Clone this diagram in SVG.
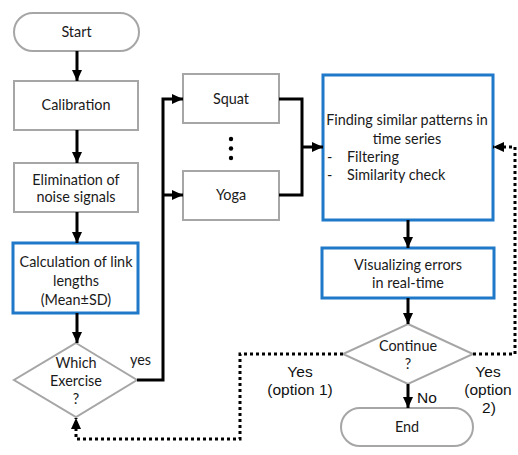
<svg xmlns="http://www.w3.org/2000/svg" width="518" height="455" viewBox="0 0 518 455">
<style>
.box{fill:#fff;stroke:#a6a6a6;stroke-width:2}
.blue{fill:#fff;stroke:#1f78c8;stroke-width:3}
.t{font-family:Lato,"Open Sans","Liberation Sans",sans-serif;font-size:14.4px;fill:#1a1a1a;text-anchor:middle}
.tl{font-family:Lato,"Open Sans","Liberation Sans",sans-serif;font-size:14.4px;fill:#1a1a1a}
.a{font-family:"Liberation Sans",Arial,sans-serif;font-size:15.5px;fill:#111;text-anchor:middle}
.c{fill:none;stroke:#000;stroke-width:3}
.d{fill:none;stroke:#000;stroke-width:3;stroke-dasharray:3 3}
</style>
<defs>
<marker id="ah" markerUnits="userSpaceOnUse" markerWidth="12" markerHeight="12" refX="11" refY="6" orient="auto">
<path d="M0,1 L11,6 L0,11 Z" fill="#000"/>
</marker>
</defs>
<rect width="518" height="455" fill="#fff"/>
<g id="start"><rect class="box" x="14" y="13" width="125" height="38" rx="19"/><text class="t" x="76.5" y="37">Start</text></g>
<g id="calibration"><rect class="box" x="14" y="81" width="124" height="49"/><text class="t" x="76" y="110">Calibration</text></g>
<g id="elimination"><rect class="box" x="14" y="163" width="124" height="49"/><text class="t" x="76" y="185">Elimination of</text><text class="t" x="76" y="202">noise signals</text></g>
<g id="calculation"><rect class="blue" x="13" y="243" width="125" height="70"/><text class="t" x="76" y="267">Calculation of link</text><text class="t" x="76" y="286">lengths</text><text class="t" x="76" y="305">(Mean±SD)</text></g>
<g id="which"><polygon class="box" points="76,343 137,380 76,417 14,380"/><text class="t" x="76" y="368">Which</text><text class="t" x="76" y="386">Exercise</text><text class="t" x="76" y="404">?</text></g>
<g id="squat"><rect class="box" x="183" y="74" width="96" height="49"/><text class="t" x="231" y="104">Squat</text></g>
<g id="dots"><circle cx="231" cy="139" r="2.2"/><circle cx="231" cy="148.5" r="2.2"/><circle cx="231" cy="158" r="2.2"/></g>
<g id="yoga"><rect class="box" x="183" y="171" width="96" height="49"/><text class="t" x="231" y="200">Yoga</text></g>
<g id="finding"><rect class="blue" x="323" y="75" width="170" height="145"/><text class="t" x="407" y="125">Finding similar patterns in</text><text class="t" x="407" y="144">time series</text><text class="tl" x="327" y="162">-</text><text class="tl" x="347" y="162">Filtering</text><text class="tl" x="327" y="180">-</text><text class="tl" x="347" y="180">Similarity check</text></g>
<g id="visualizing"><rect class="blue" x="322" y="248" width="172" height="50"/><text class="t" x="408" y="270">Visualizing errors</text><text class="t" x="408" y="288">in real-time</text></g>
<g id="continue"><polygon class="box" points="408,324 473,354 408,384 343,354"/><text class="t" x="408" y="351">Continue</text><text class="t" x="408" y="369">?</text></g>
<g id="end"><rect class="box" x="341" y="408" width="132" height="38" rx="19"/><text class="t" x="407" y="432">End</text></g>
<g id="connectors">
<path class="c" d="M77,51 V81" marker-end="url(#ah)"/>
<path class="c" d="M77,130 V163" marker-end="url(#ah)"/>
<path class="c" d="M77,212 V243" marker-end="url(#ah)"/>
<path class="c" d="M77,313 V343" marker-end="url(#ah)"/>
<path class="c" d="M137,380 H163 V99 H183" marker-end="url(#ah)"/>
<path class="c" d="M163,195 H183" marker-end="url(#ah)"/>
<path class="c" d="M279,99 H302 V195 H279"/>
<path class="c" d="M302,147 H323" marker-end="url(#ah)"/>
<path class="c" d="M408,220 V248" marker-end="url(#ah)"/>
<path class="c" d="M408,298 V324" marker-end="url(#ah)"/>
<path class="c" d="M408,384 V408" marker-end="url(#ah)"/>
<path class="d" d="M343,354 H240 V439 H76 V418" marker-end="url(#ah)"/>
<path class="d" d="M473,354 H515 V147 H493" marker-end="url(#ah)"/>
<text class="tl" x="130" y="365">yes</text>
<text class="a" x="300" y="377">Yes</text>
<text class="a" x="300" y="395">(option 1)</text>
<text class="a" x="427" y="403">No</text>
<text class="a" x="488" y="377">Yes</text>
<text class="a" x="488" y="395">(option</text>
<text class="a" x="489" y="413">2)</text>
</g>
</svg>
